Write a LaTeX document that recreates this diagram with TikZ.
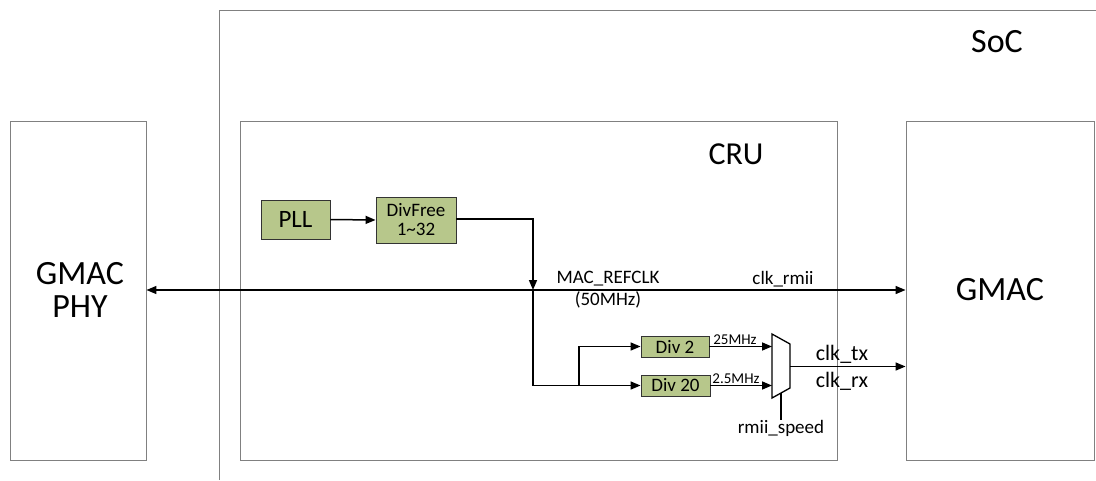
\documentclass[tikz,border=0pt]{standalone}
\usepackage{fontspec}
\setmainfont{Carlito}
\usetikzlibrary{arrows.meta}
\definecolor{blkgreen}{RGB}{183,199,139}
\definecolor{boxgray}{RGB}{128,128,128}
\tikzset{
  outer/.style={draw=boxgray, line width=0.9pt},
  greenbox/.style={draw=black!80, line width=0.9pt, fill=blkgreen, inner sep=0pt, align=center},
  wire/.style={line width=1.5pt},
  arr/.style={wire, -{Triangle[length=10pt,width=8pt]}},
  big/.style={font=\fontsize{34}{38}\selectfont},
  lbl/.style={font=\fontsize{19}{21}\selectfont, inner sep=0pt},
  small/.style={font=\fontsize{15}{16}\selectfont, inner sep=0pt},
}
\begin{document}
\begin{tikzpicture}[x=1pt,y=-1pt]
\useasboundingbox (0,0) rectangle (1096,480);
% SoC (cropped)
\draw[outer] (219,480) -- (219,10) -- (1096,10);
\node[big, inner sep=0pt] (soc) at (997,42) {SoC};
% outer boxes
\node[outer, minimum width=136pt, minimum height=339pt, inner sep=0pt] (phy) at (78,290.5) {};
\node[big, align=center, inner sep=0pt] (phylbl) at (80,290) {GMAC\\[-5pt]PHY};
\node[outer, minimum width=597pt, minimum height=339pt, inner sep=0pt] (cru) at (538.5,290.5) {};
\node[font=\fontsize{32}{34}\selectfont, inner sep=0pt] (crulbl) at (736,154) {CRU};
\node[outer, minimum width=188pt, minimum height=339pt, inner sep=0pt] (gmac) at (1000,290.5) {};
\node[big, inner sep=0pt] (gmaclbl) at (1000,290) {GMAC};
% green blocks
\node[greenbox, minimum width=69pt, minimum height=39pt, font=\fontsize{25}{27}\selectfont] (pll) at (295.5,219.5) {PLL};
\node[greenbox, minimum width=80pt, minimum height=46pt, font=\fontsize{19}{20}\selectfont] (divf) at (416,220) {DivFree\\[-1pt]1\textasciitilde32};
\node[greenbox, minimum width=68pt, minimum height=21pt, font=\fontsize{19}{20}\selectfont] (div2) at (675,346.5) {Div 2};
\node[greenbox, minimum width=69pt, minimum height=21pt, font=\fontsize{19}{20}\selectfont] (div20) at (675.5,385.5) {Div 20};
% mux
\draw[line width=1.3pt] (772,334) -- (790,344) -- (790,388) -- (772,398) -- cycle;
\coordinate (muxa) at (772,346.5);
\coordinate (muxb) at (772,385.5);
\coordinate (muxo) at (790,366.5);
\coordinate (muxs) at (781,393);
\coordinate (spd) at (781,420);
\coordinate (j) at (533,290);
\coordinate (jb) at (533,385.5);
\coordinate (br) at (579,385.5);
% connections
\draw[arr] (pll.east) -- (divf.west);
\draw[arr] (divf.east |- 0,219) -| (j);
\draw[wire, {Triangle[length=10pt,width=8pt]}-{Triangle[length=10pt,width=8pt]}] (phy.east |- j) -- (gmac.west |- j);
\draw[wire] (j) -- (jb);
\draw[arr] (jb) -- (div20.west);
\draw[arr] (br) |- (div2.west);
\draw[arr] (div2.east) -- (muxa);
\draw[arr] (div20.east) -- (muxb);
\draw[arr] (muxo) -- (gmac.west |- muxo);
\draw[line width=1.3pt] (muxs) -- (spd);
% labels
\node[lbl] (mr) at (608,279) {MAC\_REFCLK};
\node[lbl] (mhz) at (608,300) {(50MHz)};
\node[lbl] (rmii) at (783,279) {clk\_rmii};
\node[small] (f25) at (735,340) {25MHz};
\node[small] (f2) at (736,379) {2.5MHz};
\node[font=\fontsize{22}{24}\selectfont, inner sep=0pt] (tx) at (842,354) {clk\_tx};
\node[font=\fontsize{22}{24}\selectfont, inner sep=0pt] (rx) at (842,381) {clk\_rx};
\node[lbl] (rs) at (781,428) {rmii\_speed};
\end{tikzpicture}
\end{document}
